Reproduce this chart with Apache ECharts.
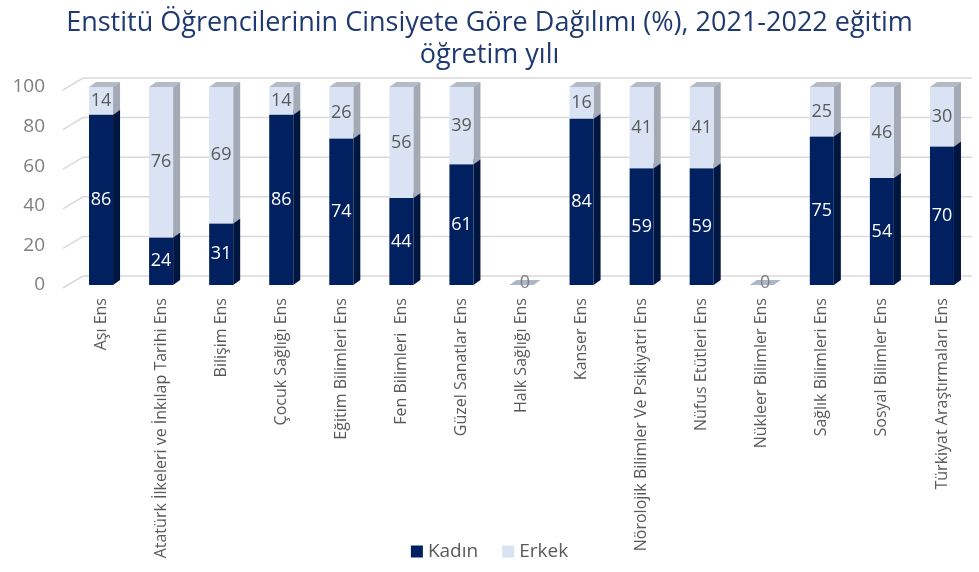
<!DOCTYPE html>
<html>
<head>
<meta charset="utf-8">
<script src="https://cdn.jsdelivr.net/npm/echarts@6/dist/echarts.min.js"></script>
<style>html,body{margin:0;padding:0;background:#fff}#c{width:979px;height:572px}</style>
</head>
<body>
<div id="c"></div>
<script>
var categories = ['Aşı Ens','Atatürk İlkeleri ve İnkılap Tarihi Ens','Bilişim Ens','Çocuk Sağlığı Ens','Eğitim Bilimleri Ens','Fen Bilimleri  Ens','Güzel Sanatlar Ens','Halk Sağlığı Ens','Kanser Ens','Nörolojik Bilimler Ve Psikiyatri Ens','Nüfus Etütleri Ens','Nükleer Bilimler Ens','Sağlık Bilimleri Ens','Sosyal Bilimler Ens','Türkiyat Araştırmaları Ens'];
var kadin = [86,24,31,86,74,44,61,0,84,59,59,0,75,54,70];
var erkek = [14,76,69,14,26,56,39,0,16,41,41,0,25,46,30];
var yTicks = [0,20,40,60,80,100];

var FONT = '"Open Sans", "Noto Sans", sans-serif';
var DX = 7, DY = -5;

function makeRender(colors, labelColor, isTop) {
  return function (params, api) {
    var i = api.value(0), base = api.value(1), top = api.value(2);
    var pB = api.coord([i, base]);
    var pT = api.coord([i, top]);
    var bw = api.size([1, 0])[0] * 0.4;
    var x0 = pB[0] - bw / 2, x1 = pB[0] + bw / 2;
    var yb = pB[1], yt = pT[1];
    var children = [];
    var val = top - base;
    if (val > 0) {
      children.push({type:'polygon', shape:{points:[[x0,yt],[x0+DX,yt+DY],[x1+DX,yt+DY],[x1,yt]]}, style:{fill:colors.top}});
      children.push({type:'polygon', shape:{points:[[x1,yt],[x1+DX,yt+DY],[x1+DX,yb+DY],[x1,yb]]}, style:{fill:colors.side}});
      children.push({type:'rect', shape:{x:x0, y:yt, width:bw, height:yb-yt}, style:{fill:colors.front}});
      children.push({type:'text', style:{text:String(val), x:(x0+x1)/2, y:(yt+yb)/2, align:'center', verticalAlign:'middle', fill:labelColor, font:'18px ' + FONT}});
    } else if (isTop && top === 0) {
      children.push({type:'polygon', shape:{points:[[x0,yt],[x0+DX,yt+DY],[x1+DX,yt+DY],[x1,yt]]}, style:{fill:colors.zero}});
      children.push({type:'text', style:{text:'0', x:(x0+x1)/2 + DX/2, y:yt - 2, align:'center', verticalAlign:'middle', fill:'#7f7f7f', font:'18px ' + FONT}});
    }
    return {type:'group', children:children};
  };
}

var kadinData = kadin.map(function (v, i) { return [i, 0, v]; });
var erkekData = erkek.map(function (v, i) { return [i, kadin[i], kadin[i] + v]; });
var gridData = yTicks.map(function (v) { return [0, v]; });

var chart = echarts.init(document.getElementById('c'));
chart.setOption({
  animation: false,
  backgroundColor: '#ffffff',
  title: {
    text: 'Enstitü Öğrencilerinin Cinsiyete Göre Dağılımı (%), 2021-2022 eğitim\nöğretim yılı',
    left: 'center', top: 2,
    textStyle: {color: '#1f3a70', fontSize: 27, fontWeight: 'normal', fontFamily: FONT, lineHeight: 32}
  },
  legend: {
    data: ['Kadın', 'Erkek'],
    bottom: 6, left: 'center',
    icon: 'rect', itemWidth: 12, itemHeight: 12, itemGap: 24,
    textStyle: {color: '#595959', fontSize: 19, fontFamily: FONT}
  },
  grid: {left: 71, right: 7, top: 87, bottom: 287, containLabel: false},
  xAxis: {
    type: 'category', data: categories,
    axisLine: {show: false}, axisTick: {show: false},
    axisLabel: {rotate: 90, interval: 0, margin: 13, color: '#595959', fontSize: 16, fontFamily: FONT}
  },
  yAxis: {
    type: 'value', min: 0, max: 100, interval: 20,
    axisLine: {show: false}, axisTick: {show: false}, splitLine: {show: false},
    axisLabel: {color: '#7f7f7f', fontSize: 19, fontFamily: FONT, margin: 26, padding: [6, 0, 0, 0]}
  },
  series: [
    {
      name: 'grid', type: 'custom', silent: true, z: 1,
      data: gridData, encode: {x: 0, y: 1},
      renderItem: function (params, api) {
        var p = api.coord([0, api.value(1)]);
        var cs = params.coordSys;
        var y = p[1];
        return {type:'polyline', shape:{points:[[cs.x - 8, y + 3],[cs.x + 12, y - 9],[cs.x + cs.width, y - 9]]}, style:{stroke:'#d9d9d9', lineWidth:1.5, fill:null}};
      }
    },
    {
      name: 'Kadın', type: 'custom', z: 3,
      itemStyle: {color: '#002060'},
      data: kadinData, encode: {x: 0, y: [1, 2]},
      renderItem: makeRender({front:'#002060', side:'#00163f', top:'#0a2a6a', zero:'#a9b4c8'}, '#ffffff', false)
    },
    {
      name: 'Erkek', type: 'custom', z: 4,
      itemStyle: {color: '#dae3f3'},
      data: erkekData, encode: {x: 0, y: [1, 2]},
      renderItem: makeRender({front:'#dae3f3', side:'#a3aab6', top:'#b4bbc6', zero:'#a9b6cc'}, '#595959', true)
    }
  ]
});
</script>
</body>
</html>
